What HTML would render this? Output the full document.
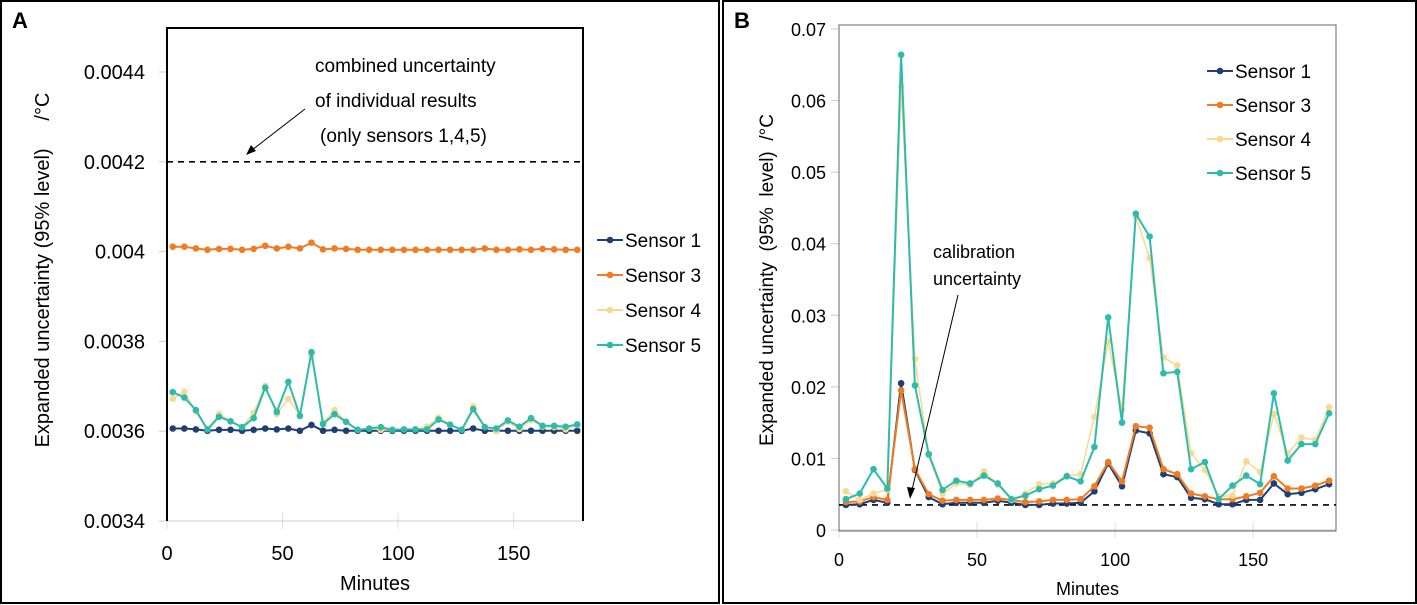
<!DOCTYPE html>
<html><head><meta charset="utf-8"><style>
body{margin:0;background:#fff;}
svg{display:block;font-family:"Liberation Sans",Arial,sans-serif;}
</style></head><body>
<svg id="chart" width="1417" height="605" viewBox="0 0 1417 605" xmlns="http://www.w3.org/2000/svg">
<rect x="1" y="1" width="718" height="602" fill="none" stroke="#000" stroke-width="2"/>
<rect x="723" y="1" width="693" height="602" fill="none" stroke="#000" stroke-width="2"/>
<text x="12" y="28" font-size="22" font-weight="bold">A</text>
<text x="734" y="28" font-size="22" font-weight="bold">B</text>
<g id="gA"></g><g id="gB"></g>
</svg>
<script>
const NS='http://www.w3.org/2000/svg';
const colors=['#1f3f73','#f07b22','#f9d88f','#2dbbab'];
const seriesNames=['Sensor 1','Sensor 3','Sensor 4','Sensor 5'];
// Panel A data
const minutesA=[2.5,7.5,12.5,17.5,22.5,27.5,32.5,37.5,42.5,47.5,52.5,57.5,62.5,67.5,72.5,77.5,82.5,87.5,92.5,97.5,102.5,107.5,112.5,117.5,122.5,127.5,132.5,137.5,142.5,147.5,152.5,157.5,162.5,167.5,172.5,177.5];
const a1=[0.003606,0.003606,0.003604,0.003601,0.003603,0.003603,0.003601,0.003603,0.003606,0.003604,0.003606,0.003601,0.003614,0.003601,0.003603,0.003601,0.003601,0.003601,0.003601,0.003601,0.003601,0.003601,0.003601,0.003601,0.003601,0.003601,0.003606,0.003601,0.003601,0.003601,0.003601,0.003601,0.003601,0.003601,0.003601,0.003601];
const a3=[0.004011,0.004011,0.004007,0.004004,0.004006,0.004006,0.004004,0.004006,0.004013,0.004007,0.004011,0.004007,0.004020,0.004005,0.004007,0.004006,0.004004,0.004004,0.004004,0.004004,0.004004,0.004004,0.004004,0.004004,0.004004,0.004004,0.004004,0.004007,0.004004,0.004004,0.004005,0.004004,0.004006,0.004005,0.004004,0.004004];
const a4=[0.003672,0.003688,0.003643,0.003604,0.003638,0.003622,0.003609,0.003641,0.003701,0.003638,0.003672,0.003636,0.003770,0.003619,0.003647,0.003621,0.003603,0.003606,0.003603,0.003603,0.003604,0.003604,0.003610,0.003630,0.003616,0.003604,0.003655,0.003610,0.003601,0.003621,0.003605,0.003625,0.003610,0.003609,0.003604,0.003614];
const a5=[0.003687,0.003675,0.003647,0.003604,0.003632,0.003622,0.003609,0.003629,0.003697,0.003643,0.003710,0.003634,0.003776,0.003616,0.003638,0.003621,0.003603,0.003606,0.003609,0.003603,0.003604,0.003604,0.003604,0.003626,0.003614,0.003603,0.003649,0.003609,0.003606,0.003624,0.003610,0.003629,0.003612,0.003612,0.003610,0.003615];
const yTicksA=['0.0034','0.0036','0.0038','0.004','0.0042','0.0044'];
const xTicks=[0,50,100,150];
// Panel B data
const minutesB=minutesA.slice();
const b1=[0.0035,0.0036,0.0042,0.0038,0.0205,0.0084,0.0046,0.0036,0.0038,0.0038,0.0038,0.0041,0.0038,0.0035,0.0035,0.0037,0.0037,0.0038,0.0054,0.0093,0.0061,0.0139,0.0135,0.0078,0.0074,0.0045,0.0043,0.0036,0.0036,0.0042,0.0042,0.0065,0.0050,0.0052,0.0057,0.0064];
const b3=[0.0039,0.0040,0.0046,0.0042,0.0195,0.0085,0.0050,0.0041,0.0042,0.0042,0.0042,0.0044,0.0042,0.0039,0.0040,0.0042,0.0042,0.0043,0.0061,0.0095,0.0068,0.0145,0.0143,0.0085,0.0078,0.0051,0.0047,0.0043,0.0043,0.0047,0.0052,0.0075,0.0058,0.0058,0.0062,0.0069];
const b4=[0.0054,0.0042,0.0051,0.0056,0.0619,0.0239,0.0104,0.0051,0.0065,0.0063,0.0082,0.0063,0.0042,0.0051,0.0064,0.0065,0.0076,0.0078,0.0158,0.0263,0.0168,0.0438,0.0380,0.0241,0.0230,0.0107,0.0084,0.0047,0.0048,0.0096,0.0081,0.0162,0.0107,0.0129,0.0126,0.0172];
const b5=[0.0043,0.0051,0.0085,0.0058,0.0664,0.0202,0.0106,0.0056,0.0069,0.0065,0.0076,0.0065,0.0043,0.0048,0.0057,0.0062,0.0075,0.0068,0.0116,0.0297,0.0150,0.0442,0.0410,0.0219,0.0221,0.0085,0.0095,0.0043,0.0062,0.0076,0.0064,0.0191,0.0097,0.0120,0.0120,0.0163];
const yTicksB=['0','0.01','0.02','0.03','0.04','0.05','0.06','0.07'];

function el(tag,attrs,parent,text){const e=document.createElementNS(NS,tag);for(const k in attrs)e.setAttribute(k,attrs[k]);if(text!==undefined)e.textContent=text;parent.appendChild(e);return e;}

function panel(g,P,series,yTicks,minutes,refVal){
  const sx=v=>P.x0+(v-P.xmin)/(P.xmax-P.xmin)*(P.x1-P.x0);
  const sy=v=>P.y0-(v-P.ymin)/(P.ymax-P.ymin)*(P.y0-P.ytop);
  yTicks.forEach(t=>{const y=sy(parseFloat(t));
    const tk=el('line',{x1:P.x0-8,x2:P.x0,y1:y,y2:y,stroke:'#ccc'},g);
    
    const lb=el('text',{x:P.x0-P.labOff,y:y+7,'text-anchor':'end','font-size':P.tfs},g,t);
    });
  xTicks.forEach(t=>{const x=sx(t);
    const tk=el('line',{x1:x,x2:x,y1:P.y0-8,y2:P.y0+8,stroke:'#ddd'},g);
    
    const lb=el('text',{x:x,y:P.xly,'text-anchor':'middle','font-size':P.tfs},g,String(t));
    });
  const ax=el('line',{x1:P.x0,x2:P.x1,y1:P.y0,y2:P.y0,stroke:'#ccc'},g);
  
  const fr=el('path',{d:P.frame,fill:'none',stroke:P.frameColor,'stroke-width':P.frameW},g);
  
  const rl=el('line',{x1:P.x0,x2:P.x1,y1:sy(refVal),y2:sy(refVal),stroke:'#000','stroke-width':1.6,'stroke-dasharray':'6,5'},g);
  
  [0,1,2,3].forEach(si=>{const vals=series[si];
    const sg=el('g',{},g);
    
    
    const pts=vals.map((v,i)=>sx(minutes[i]).toFixed(1)+','+sy(v).toFixed(1)).join(' ');
    const pl=el('polyline',{points:pts,fill:'none',stroke:colors[si],'stroke-width':si==2?1.5:2},sg);
    
    vals.forEach((v,i)=>{const c=el('circle',{cx:sx(minutes[i]),cy:sy(v),r:3.3,fill:colors[si]},sg);
      });
  });
  seriesNames.forEach((n,i)=>{const y=P.legY+i*P.legDy;
    const lg=el('g',{},g);
    
    el('line',{x1:P.legX,x2:P.legX+26,y1:y,y2:y,stroke:colors[i],'stroke-width':2},lg);
    el('circle',{cx:P.legX+13,cy:y,r:3.3,fill:colors[i]},lg);
    el('text',{x:P.legX+28,y:y+7,'font-size':19},lg,n);});
  const xt=el('text',{x:(P.x0+P.x1)/2,y:P.xty,'text-anchor':'middle','font-size':P.xtfs},g,'Minutes');
  
  const yt=el('text',{transform:`translate(${P.ytx},${P.yty}) rotate(-90)`,'text-anchor':'middle','font-size':P.ytfs,style:'white-space:pre'},g,P.ytitle);
  
}
const gA=document.getElementById('gA'),gB=document.getElementById('gB');
panel(gA,{x0:167,x1:583,xmin:0,xmax:180,y0:521,ytop:72,ymin:0.0034,ymax:0.0044,labOff:22,tfs:20,xly:560,xty:590,xtfs:20,ytfs:20,
  frame:'M167,521 L167,28 L583,28 L583,521',frameColor:'#000',frameW:2,legX:597,legY:240,legDy:35,ytx:49,yty:270,
  ytitle:'Expanded uncertainty (95% level)     /°C'},[a1,a3,a4,a5],yTicksA,minutesA,0.0042);
panel(gB,{x0:839,x1:1336,xmin:0,xmax:180,y0:530,ytop:29,ymin:0,ymax:0.07,labOff:13,tfs:18,xly:566,xty:595,xtfs:18,ytfs:19,
  frame:'M839,531 L839,25 L1336,25 L1336,531 Z',frameColor:'#666',frameW:1,legX:1207,legY:71,legDy:34,ytx:773,yty:280,
  ytitle:'Expanded uncertainty  (95%  level)  /°C'},[b1,b3,b4,b5],yTicksB,minutesB,0.0035);
const ann=el('g',{},document.getElementById('chart'));

el('text',{x:315,y:72,'font-size':19},ann,'combined uncertainty');
el('text',{x:315,y:107,'font-size':19},ann,'of individual results');
el('text',{x:320,y:142,'font-size':19},ann,'(only sensors 1,4,5)');
el('line',{x1:305,y1:109,x2:252,y2:150,stroke:'#000','stroke-width':1},ann);
el('path',{d:'M246,155 L251,145 L256,151 Z',fill:'#000'},ann);
el('text',{x:933,y:258,'font-size':18},ann,'calibration');
el('text',{x:933,y:285,'font-size':18},ann,'uncertainty');
el('line',{x1:958,y1:295,x2:912,y2:490,stroke:'#000','stroke-width':1},ann);
el('path',{d:'M910,499 L907,487 L915,488 Z',fill:'#000'},ann);
</script>
</body></html>
